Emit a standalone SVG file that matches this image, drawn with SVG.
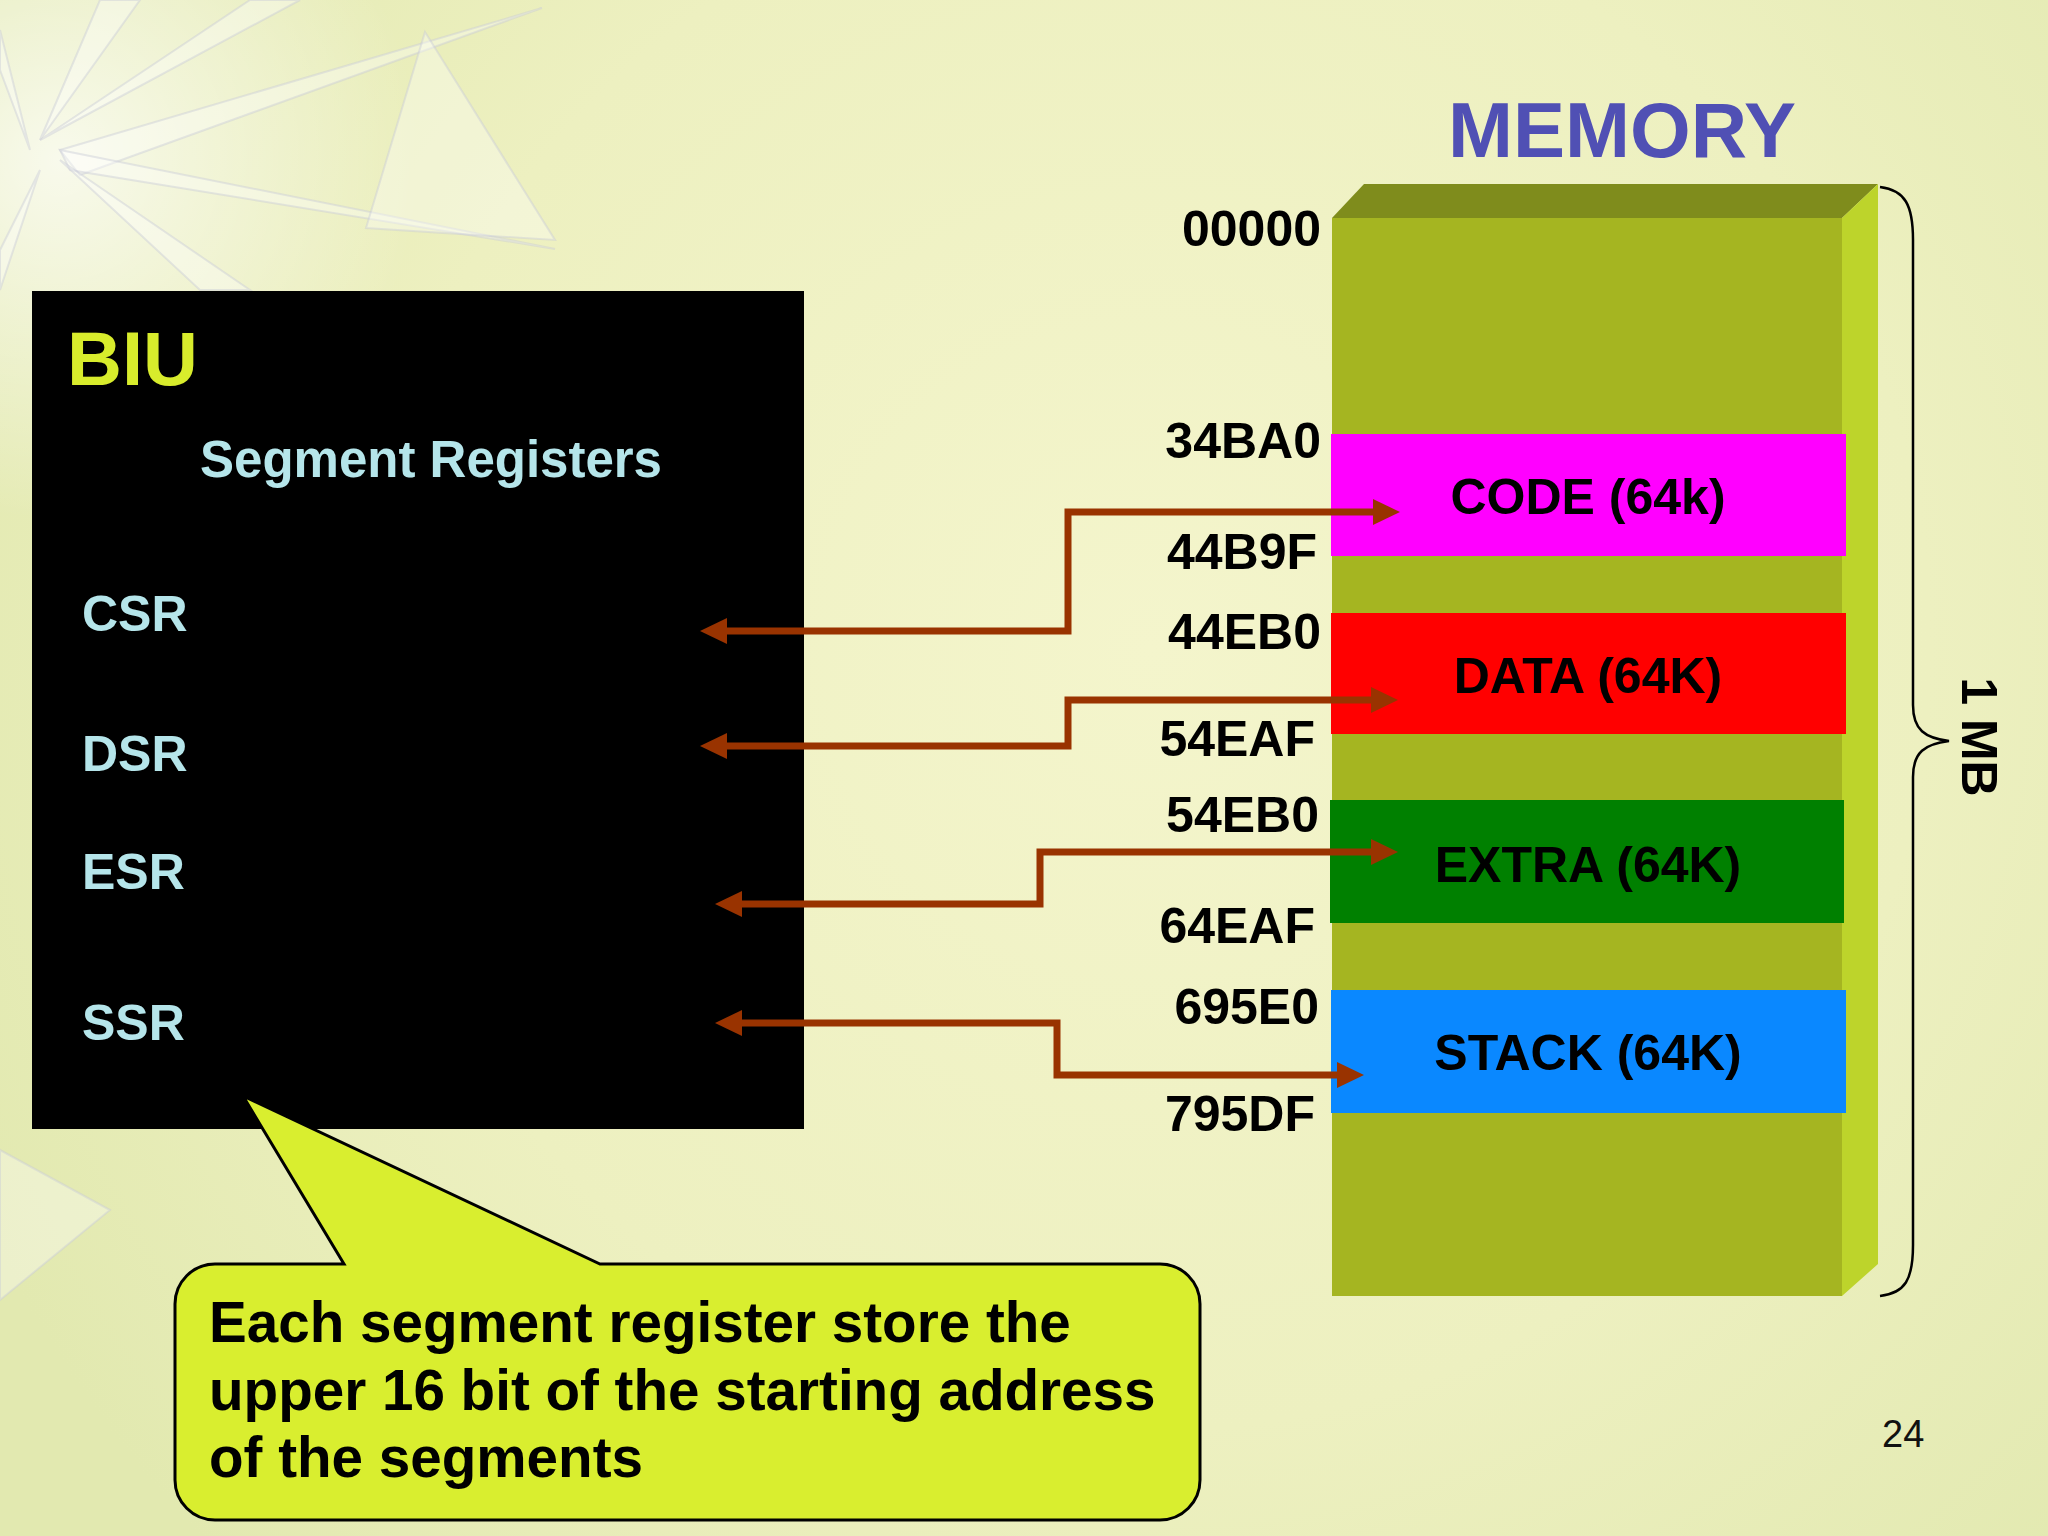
<svg xmlns="http://www.w3.org/2000/svg" width="2048" height="1536" viewBox="0 0 2048 1536">
  <defs>
    <radialGradient id="bg" cx="1150" cy="650" r="1300" gradientUnits="userSpaceOnUse">
      <stop offset="0" stop-color="#F4F5CC"/>
      <stop offset="0.6" stop-color="#EDF0C0"/>
      <stop offset="1" stop-color="#E2E9B0"/>
    </radialGradient>
    <radialGradient id="glow" cx="60" cy="160" r="360" gradientUnits="userSpaceOnUse">
      <stop offset="0" stop-color="#FFFFFF" stop-opacity="0.75"/>
      <stop offset="1" stop-color="#FFFFFF" stop-opacity="0"/>
    </radialGradient>
    <marker id="ah" markerUnits="userSpaceOnUse" markerWidth="30" markerHeight="28" refX="6" refY="13" orient="auto-start-reverse">
      <path d="M0,0 L27,13 L0,26 Z" fill="#993300"/>
    </marker>
    <style>
      .lbl { font-family: "Liberation Sans", Arial, sans-serif; font-weight: bold; }
      .addr { font-family: "Liberation Sans", Arial, sans-serif; font-weight: bold; font-size: 50px; fill: #000; text-anchor: end; }
      .seg { font-family: "Liberation Sans", Arial, sans-serif; font-weight: bold; font-size: 50px; fill: #000; text-anchor: middle; }
      .reg { font-family: "Liberation Sans", Arial, sans-serif; font-weight: bold; font-size: 50px; fill: #B5E5EA; }
      .conn { fill: none; stroke: #993300; stroke-width: 7; stroke-linejoin: miter; marker-start: url(#ah); marker-end: url(#ah); }
      .spike { fill: #FFFFFF; fill-opacity: 0.35; stroke: #C9CBD8; stroke-opacity: 0.45; stroke-width: 2; }
    </style>
  </defs>

  <!-- background -->
  <rect x="0" y="0" width="2048" height="1536" fill="url(#bg)"/>
  <g id="background-decor">
    <rect x="0" y="0" width="700" height="600" fill="url(#glow)"/>
    <polygon class="spike" points="60,150 542,8 80,175"/>
    <polygon class="spike" points="60,150 555,249 70,170"/>
    <polygon class="spike" points="40,140 300,0 250,0"/>
    <polygon class="spike" points="40,140 140,0 100,0"/>
    <polygon class="spike" points="30,150 0,30 0,70"/>
    <polygon class="spike" points="425,32 555,240 366,228"/>
    <polygon class="spike" points="60,160 250,290 200,290"/>
    <polygon class="spike" points="40,170 0,290 0,250"/>
    <polygon class="spike" points="0,1150 110,1210 0,1300"/>
  </g>

  <!-- MEMORY title -->
  <g id="memory-title">
    <text class="lbl" x="1448" y="157" font-size="78" fill="#5050B4">MEMORY</text>
  </g>

  <!-- Memory block -->
  <g id="memory">
    <polygon points="1332,218 1364,184 1878,184 1842,218" fill="#7F8C1C"/>
    <rect x="1332" y="218" width="510" height="1078" fill="#A5B521"/>
    <polygon points="1842,218 1878,184 1878,1264 1842,1296" fill="#BDD42B"/>
  </g>

  <g id="seg-code">
    <rect x="1331" y="434" width="515" height="122" fill="#FF00FF"/>
    <text class="seg" x="1588" y="514">CODE (64k)</text>
  </g>
  <g id="seg-data">
    <rect x="1331" y="613" width="515" height="121" fill="#FF0000"/>
    <text class="seg" x="1588" y="693">DATA (64K)</text>
  </g>
  <g id="seg-extra">
    <rect x="1330" y="800" width="514" height="123" fill="#008000"/>
    <text class="seg" x="1588" y="882">EXTRA (64K)</text>
  </g>
  <g id="seg-stack">
    <rect x="1331" y="990" width="515" height="123" fill="#0A88FF"/>
    <text class="seg" x="1588" y="1070">STACK (64K)</text>
  </g>

  <!-- addresses -->
  <g id="addresses">
    <text class="addr" x="1321" y="246">00000</text>
    <text class="addr" x="1321" y="458">34BA0</text>
    <text class="addr" x="1317" y="569">44B9F</text>
    <text class="addr" x="1321" y="649">44EB0</text>
    <text class="addr" x="1315" y="756">54EAF</text>
    <text class="addr" x="1319" y="832">54EB0</text>
    <text class="addr" x="1315" y="943">64EAF</text>
    <text class="addr" x="1319" y="1024">695E0</text>
    <text class="addr" x="1315" y="1131">795DF</text>
  </g>

  <!-- brace and 1 MB -->
  <g id="size-brace">
    <path d="M1880,187 C1905,190 1913,205 1913,240 L1913,705 C1913,730 1925,738 1949,741 C1925,744 1913,752 1913,777 L1913,1245 C1913,1280 1905,1293 1880,1296" fill="none" stroke="#000" stroke-width="2.5"/>
    <text class="lbl" transform="translate(1962,737) rotate(90)" font-size="50" text-anchor="middle" fill="#000">1 MB</text>
  </g>

  <!-- BIU -->
  <g id="biu">
    <rect x="32" y="291" width="772" height="838" fill="#000000"/>
    <text class="lbl" x="67" y="385" font-size="76" fill="#D8EC2C">BIU</text>
    <text class="lbl" x="200" y="477" font-size="51" fill="#B5E5EA">Segment Registers</text>
  </g>
  <g id="reg-csr"><text class="reg" x="82" y="631">CSR</text></g>
  <g id="reg-dsr"><text class="reg" x="82" y="771">DSR</text></g>
  <g id="reg-esr"><text class="reg" x="82" y="889">ESR</text></g>
  <g id="reg-ssr"><text class="reg" x="82" y="1040">SSR</text></g>

  <!-- connectors -->
  <g id="connectors">
    <path class="conn" d="M721,631 L1068,631 L1068,512 L1379,512"/>
    <path class="conn" d="M721,746 L1068,746 L1068,700 L1377,700"/>
    <path class="conn" d="M736,904 L1040,904 L1040,852 L1377,852"/>
    <path class="conn" d="M736,1023 L1057,1023 L1057,1075 L1343,1075"/>
  </g>

  <!-- callout -->
  <g id="callout">
    <path d="M215,1264 L344,1264 L243,1096 L600,1264 L1160,1264 A40,40 0 0 1 1200,1304 L1200,1480 A40,40 0 0 1 1160,1520 L215,1520 A40,40 0 0 1 175,1480 L175,1304 A40,40 0 0 1 215,1264 Z" fill="#D9EE2F" stroke="#000" stroke-width="3" stroke-linejoin="miter"/>
    <text class="lbl" font-size="56.6" fill="#000">
      <tspan x="209" y="1342">Each segment register store the</tspan>
      <tspan x="209" y="1410">upper 16 bit of the starting address</tspan>
      <tspan x="209" y="1477">of the segments</tspan>
    </text>
  </g>

  <!-- page number -->
  <g id="page-number">
    <text x="1882" y="1447" font-family="Liberation Sans, Arial, sans-serif" font-size="38" fill="#111">24</text>
  </g>
</svg>
